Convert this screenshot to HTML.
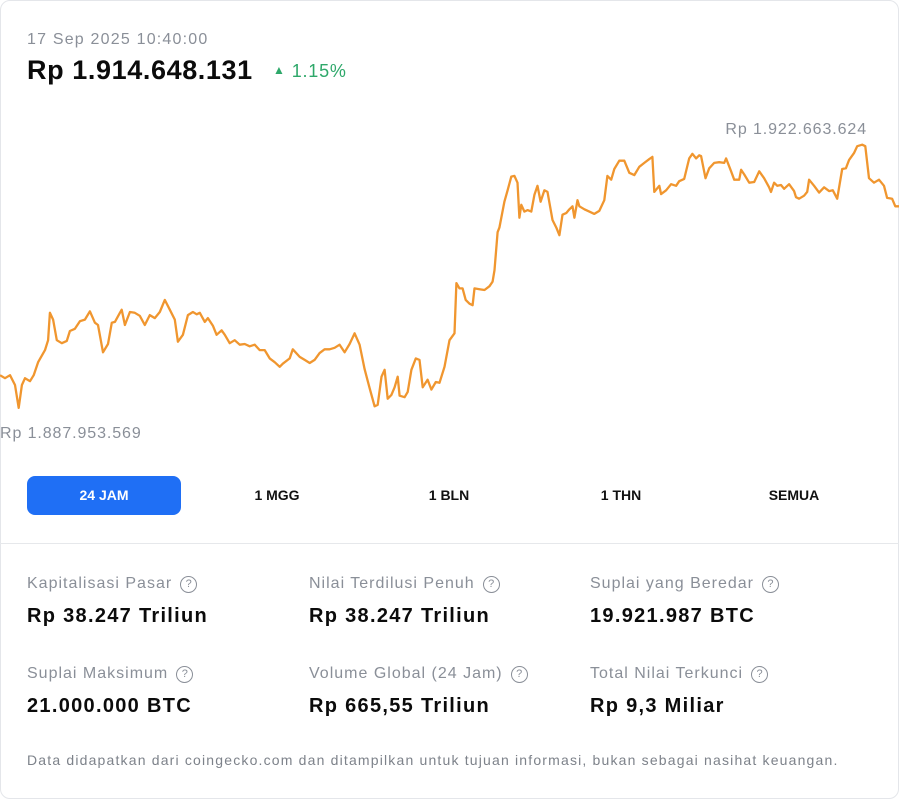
<!DOCTYPE html>
<html><head><meta charset="utf-8">
<style>
html,body{margin:0;padding:0;background:#fff;}
body{width:899px;height:800px;position:relative;overflow:hidden;font-family:"Liberation Sans",Arial,sans-serif;}
.card{position:absolute;left:0;top:0;width:897px;height:797px;border:1px solid #e4e6ea;border-radius:10px;}
.abs{position:absolute;white-space:nowrap;}
.date{left:27px;top:31px;font-size:16px;color:#8a8f98;letter-spacing:1.2px;}
.price{left:27px;top:55px;font-size:27px;font-weight:bold;color:#0b0b0b;letter-spacing:0.6px;}
.chg{left:273px;top:61px;font-size:18px;color:#2ea86a;letter-spacing:0.8px;}
.chg span{font-size:12px;position:relative;top:-3px;margin-right:6px;}
.btn{top:476px;height:39px;width:154px;border-radius:8px;font-size:14px;font-weight:bold;color:#111;text-align:center;line-height:39px;}
.btn.active{background:#1f6ff5;color:#fff;}
.divider{left:0;top:543px;width:899px;height:1px;background:#e6e8eb;}
.lbl{font-size:16px;color:#8a8f98;letter-spacing:1px;}
.q{display:inline-block;width:15px;height:15px;border:1.4px solid #8a8f98;border-radius:50%;font-size:11px;line-height:15px;text-align:center;margin-left:8px;vertical-align:1px;box-sizing:content-box;letter-spacing:0;}
.val{font-size:20px;font-weight:bold;color:#0b0b0b;letter-spacing:1.3px;}
.foot{left:27px;top:752px;font-size:14px;color:#7d828a;letter-spacing:1.18px;}
</style></head><body>
<div class="card"></div>
<div class="abs date">17 Sep 2025 10:40:00</div>
<div class="abs price">Rp 1.914.648.131</div>
<div class="abs chg"><span>▲</span>1.15%</div>

<svg id="chart" class="abs" style="left:0;top:0" width="899" height="460"></svg>

<div class="abs btn active" style="left:27px">24 JAM</div>
<div class="abs btn" style="left:200px">1 MGG</div>
<div class="abs btn" style="left:372px">1 BLN</div>
<div class="abs btn" style="left:544px">1 THN</div>
<div class="abs btn" style="left:717px">SEMUA</div>
<div class="abs divider"></div>

<div class="abs lbl" style="left:27px;top:575px">Kapitalisasi Pasar<span class="q">?</span></div>
<div class="abs val" style="left:27px;top:605px">Rp 38.247 Triliun</div>
<div class="abs lbl" style="left:309px;top:575px">Nilai Terdilusi Penuh<span class="q">?</span></div>
<div class="abs val" style="left:309px;top:605px">Rp 38.247 Triliun</div>
<div class="abs lbl" style="left:590px;top:575px">Suplai yang Beredar<span class="q">?</span></div>
<div class="abs val" style="left:590px;top:605px">19.921.987 BTC</div>

<div class="abs lbl" style="left:27px;top:665px">Suplai Maksimum<span class="q">?</span></div>
<div class="abs val" style="left:27px;top:695px">21.000.000 BTC</div>
<div class="abs lbl" style="left:309px;top:665px">Volume Global (24 Jam)<span class="q">?</span></div>
<div class="abs val" style="left:309px;top:695px">Rp 665,55 Triliun</div>
<div class="abs lbl" style="left:590px;top:665px">Total Nilai Terkunci<span class="q">?</span></div>
<div class="abs val" style="left:590px;top:695px">Rp 9,3 Miliar</div>

<div class="abs foot">Data didapatkan dari coingecko.com dan ditampilkan untuk tujuan informasi, bukan sebagai nasihat keuangan.</div>

<script>
const minutes = [0,8,16,24,30,35,40,48,54,61,72,77,80,85,91,99,107,112,120,128,136,144,152,157,165,173,179,184,192,195,200,208,216,224,232,240,248,256,264,272,280,285,293,301,309,315,320,328,333,341,347,355,360,368,376,384,392,400,408,416,424,432,440,448,453,464,469,480,488,496,504,512,520,528,536,544,552,560,568,576,584,592,600,605,611,616,621,627,632,637,640,648,653,659,666,672,677,685,691,698,704,712,720,728,731,736,741,746,752,757,760,768,776,784,789,792,797,800,808,813,819,824,829,832,835,840,845,851,856,861,866,872,877,885,891,896,901,907,912,917,920,925,928,936,944,952,960,968,973,979,984,992,1000,1008,1016,1024,1032,1040,1045,1048,1056,1059,1067,1075,1083,1088,1096,1104,1109,1115,1120,1123,1130,1136,1144,1152,1160,1163,1171,1176,1184,1187,1192,1200,1208,1216,1224,1232,1235,1240,1245,1251,1256,1264,1272,1275,1280,1288,1293,1296,1304,1312,1320,1328,1334,1341,1349,1355,1360,1368,1373,1381,1386,1392,1400,1408,1416,1421,1429,1434,1440];
const pricesM = [1892.4,1892.0,1892.4,1891.1,1888.1,1891.1,1892.0,1891.6,1892.4,1894.1,
1895.7,1897.0,1900.6,1899.7,1897.0,1896.6,1896.9,1898.2,1898.5,1899.5,
1899.7,1900.8,1899.3,1899.0,1895.4,1896.5,1899.3,1899.4,1900.6,1901.0,
1899.0,1900.7,1900.6,1900.2,1899.0,1900.3,1899.9,1900.7,1902.3,1901.0,
1899.7,1896.8,1897.7,1900.3,1900.7,1900.4,1900.6,1899.4,1899.9,1898.9,
1897.7,1898.3,1897.7,1896.6,1897.0,1896.4,1896.5,1896.2,1896.4,1895.7,
1895.7,1894.6,1894.1,1893.5,1893.9,1894.6,1895.8,1894.8,1894.4,1894.0,
1894.4,1895.3,1895.8,1895.8,1896.0,1896.4,1895.4,1896.5,1897.9,1896.4,
1893.2,1890.7,1888.3,1888.5,1892.2,1893.1,1889.3,1889.8,1890.8,1892.2,
1889.7,1889.5,1890.2,1893.1,1894.6,1894.4,1890.8,1891.8,1890.5,1891.5,
1891.4,1893.5,1897.0,1897.9,1904.5,1903.8,1903.8,1902.3,1901.8,1901.6,
1903.8,1903.7,1903.6,1904.1,1904.7,1906.2,1911.2,1911.8,1915.2,1916.7,
1918.5,1918.6,1917.7,1913.1,1914.8,1913.9,1914.1,1913.9,1916.1,1917.3,
1915.2,1916.7,1916.5,1912.8,1911.8,1910.8,1913.5,1913.7,1914.2,1914.6,
1913.1,1915.4,1914.6,1914.2,1913.9,1913.6,1914.0,1915.4,1918.6,1918.1,
1919.5,1920.6,1920.6,1919.0,1918.7,1919.8,1920.3,1920.8,1921.1,1916.5,
1917.3,1916.2,1916.7,1917.5,1917.3,1917.9,1918.2,1920.9,1921.5,1920.9,
1921.3,1921.2,1918.3,1919.6,1920.3,1920.4,1920.3,1920.9,1919.2,1918.1,
1918.1,1919.4,1918.8,1917.7,1917.8,1919.2,1918.3,1917.1,1916.5,1917.7,
1917.3,1917.4,1916.9,1917.5,1916.6,1915.8,1915.6,1916.0,1916.5,1918.1,
1917.3,1916.4,1917.1,1916.6,1916.7,1915.6,1919.5,1919.6,1920.7,1921.6,
1922.5,1922.7,1922.5,1918.3,1917.7,1918.1,1917.3,1915.7,1915.6,1914.6,
1914.6];
const maxLabel = "Rp 1.922.663.624";
const minLabel = "Rp 1.887.953.569";
const yMin = 1887.95, yMax = 1922.66;

const NS = "http://www.w3.org/2000/svg";
const svg = document.getElementById('chart');
function xScale(t){ return t / 1440 * 899; }
function yScale(v){ return 409 - (v - yMin) / (yMax - yMin) * 264; }

let d = '';
minutes.forEach((t,i)=>{ d += (i ? 'L' : 'M') + xScale(t).toFixed(1) + ',' + yScale(pricesM[i]).toFixed(1); });
const path = document.createElementNS(NS,'path');
path.setAttribute('d', d);
path.setAttribute('fill','none');
path.setAttribute('stroke','#f0962f');
path.setAttribute('stroke-width','2.3');
path.setAttribute('stroke-linejoin','round');


svg.appendChild(path);

const hi = document.createElementNS(NS,'text');
hi.setAttribute('x', 867); hi.setAttribute('y', 134);
hi.setAttribute('text-anchor','end');
hi.setAttribute('font-size','16'); hi.setAttribute('fill','#8a8f98');
hi.setAttribute('letter-spacing','0.9');
hi.setAttribute('font-family','Liberation Sans, sans-serif');
hi.textContent = maxLabel;


svg.appendChild(hi);

const lo = document.createElementNS(NS,'text');
lo.setAttribute('x', 0); lo.setAttribute('y', 438);
lo.setAttribute('font-size','16'); lo.setAttribute('fill','#8a8f98');
lo.setAttribute('letter-spacing','0.9');
lo.setAttribute('font-family','Liberation Sans, sans-serif');
lo.textContent = minLabel;


svg.appendChild(lo);
</script>
</body></html>
